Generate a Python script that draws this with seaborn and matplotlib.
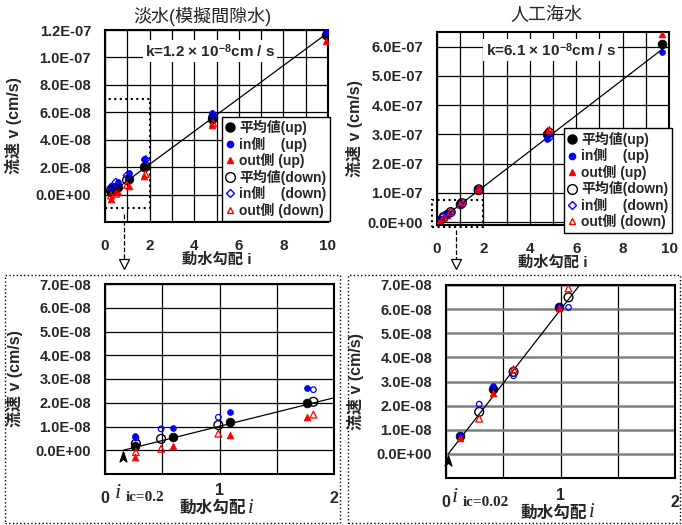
import numpy as np
import pandas as pd
import matplotlib
matplotlib.use('Agg')
import matplotlib.pyplot as plt
import seaborn as sns
from matplotlib.lines import Line2D
from matplotlib.patches import Rectangle
from matplotlib.path import Path

# ---------------- data ----------------
# 淡水 (模擬間隙水)
fw_up_x = [0.26, 0.59, 1.09, 1.76, 4.80, 9.90]
fw_up_mean = [0.17e-8, 0.55e-8, 1.17e-8, 2.00e-8, 5.50e-8, 11.65e-8]
fw_up_in = [0.59e-8, 0.92e-8, 1.60e-8, 2.63e-8, 5.95e-8, 11.85e-8]
fw_up_out = [-0.30e-8, 0.20e-8, 0.66e-8, 1.39e-8, 5.05e-8, 11.20e-8]
fw_dn_x = [0.27, 0.49, 0.99, 1.82, 4.85]
fw_dn_mean = [0.28e-8, 0.48e-8, 1.06e-8, 2.04e-8, 5.60e-8]
fw_dn_in = [0.52e-8, 0.90e-8, 1.39e-8, 2.55e-8, 5.80e-8]
fw_dn_out = [-0.07e-8, 0.06e-8, 0.70e-8, 1.50e-8, 5.20e-8]
fw_k = 1.2e-8
fw_i0 = 0.16          # where the drawn fit line meets v = 0
fw_ic_label = 'ic=0.2'

# 人工海水
sw_up_x = [0.12, 0.41, 0.99, 1.75, 4.75, 9.70]
sw_up_mean = [0.74e-8, 2.68e-8, 6.07e-8, 11.0e-8, 30.0e-8, 61.0e-8]
sw_up_in = [0.80e-8, 2.82e-8, 6.10e-8, 11.2e-8, 28.5e-8, 58.0e-8]
sw_up_out = [0.66e-8, 2.51e-8, 6.03e-8, 10.9e-8, 31.4e-8, 64.2e-8]
sw_dn_x = [0.29, 0.59, 1.07, 1.80, 4.85]
sw_dn_mean = [1.74e-8, 3.40e-8, 6.49e-8, 11.2e-8, 30.5e-8]
sw_dn_in = [2.06e-8, 3.24e-8, 6.07e-8, 11.0e-8, 28.9e-8]
sw_dn_out = [1.46e-8, 3.51e-8, 6.86e-8, 11.4e-8, 31.5e-8]
sw_k = 6.1e-8
sw_i0 = 0.02
sw_ic_label = 'ic=0.02'

legend_labels = ['平均値(up)', 'in側    (up)', 'out側 (up)',
                 '平均値(down)', 'in側    (down)', 'out側 (down)']

# ---------------- style ----------------
sns.set_style('white')
plt.rcParams['font.family'] = ['Liberation Sans', 'Noto Sans CJK JP']
plt.rcParams['font.weight'] = 'bold'
plt.rcParams['mathtext.fontset'] = 'custom'
plt.rcParams['mathtext.bf'] = 'Liberation Sans:bold'
plt.rcParams['mathtext.rm'] = 'Liberation Sans:bold'
plt.rcParams['mathtext.it'] = 'Liberation Serif:italic'

fig = plt.figure(figsize=(6.82, 5.25), dpi=100)
W, H = 682, 525


def px_axes(l, t, r, b):
    return fig.add_axes([l / W, 1 - b / H, (r - l) / W, (b - t) / H])


def draw_points(ax, up_x, up_m, up_i, up_o, dn_x, dn_m, dn_i, dn_o, in_dn_marker):
    sns.scatterplot(x=up_x, y=up_m, ax=ax, marker='o', s=40,
                    color='black', edgecolor='black', linewidth=0.5, zorder=4)
    sns.scatterplot(x=up_x, y=up_i, ax=ax, marker='o', s=18,
                    color='blue', edgecolor='blue', linewidth=0.5, zorder=4)
    sns.scatterplot(x=up_x, y=up_o, ax=ax, marker='^', s=24,
                    color='red', edgecolor='red', linewidth=0.5, zorder=4)
    sns.scatterplot(x=dn_x, y=dn_m, ax=ax, marker='o', s=40,
                    facecolor='none', edgecolor='black', linewidth=1.0, zorder=5)
    sns.scatterplot(x=dn_x, y=dn_i, ax=ax, marker=in_dn_marker, s=16,
                    facecolor='none', edgecolor='blue', linewidth=0.9, zorder=5)
    sns.scatterplot(x=dn_x, y=dn_o, ax=ax, marker='^', s=24,
                    facecolor='none', edgecolor='red', linewidth=0.9, zorder=5)


def fit_line(ax, k, i0, x_end):
    line = pd.DataFrame({'i': [i0, x_end]})
    line['v'] = k * (line['i'] - i0)
    sns.lineplot(data=line, x='i', y='v', ax=ax, color='black', lw=0.9, zorder=3)


def frame(ax, xticks, xlabels, yticks, ylabels, xlim, ylim):
    ax.set_xlim(*xlim)
    ax.set_ylim(*ylim)
    ax.set_xticks(xticks)
    ax.set_xticklabels(xlabels)
    ax.set_yticks(yticks)
    ax.set_yticklabels(ylabels)
    ax.tick_params(length=0, labelsize=10.5, pad=10)
    ax.tick_params(axis='x', labelsize=11, pad=12)
    ax.grid(True, color='black', lw=0.9)
    ax.set_axisbelow(True)
    for sp in ax.spines.values():
        sp.set_linewidth(1.5)
        sp.set_color('black')
    ax.set_xlabel('')
    ax.set_ylabel('流速 v (cm/s)', fontsize=11.5, fontweight='bold')


def fmt(vals, skip_first):
    labs = ['%.1E' % v for v in vals]
    if skip_first:
        labs[0] = ''
    return labs


def legend(ax, anchor, in_dn_marker):
    handles = [
        Line2D([], [], ls='', marker='o', ms=6.5, color='black'),
        Line2D([], [], ls='', marker='o', ms=4.5, color='blue'),
        Line2D([], [], ls='', marker='^', ms=5, color='red'),
        Line2D([], [], ls='', marker='o', ms=7, mfc='none', mec='black', mew=1),
        Line2D([], [], ls='', marker=in_dn_marker, ms=4, mfc='none', mec='blue', mew=1),
        Line2D([], [], ls='', marker='^', ms=5, mfc='none', mec='red', mew=1),
    ]
    leg = ax.legend(handles, legend_labels, loc='lower left', bbox_to_anchor=anchor,
                    borderaxespad=0, fancybox=False, framealpha=1, edgecolor='black',
                    handlelength=0.7, handletextpad=0.3, labelspacing=0.1,
                    borderpad=0.25, prop={'size': 10, 'weight': 'bold'})
    leg.get_frame().set_linewidth(1.0)
    leg.set_zorder(10)


K_TEXT = 'k={}' + ' × 10$^{{\\mathbf{{-8}}}}$cm / s'

# ================= top-left: 淡水 =================
ax1 = px_axes(105, 30, 328, 222)
fit_line(ax1, fw_k, fw_i0, 9.9)
draw_points(ax1, fw_up_x, fw_up_mean, fw_up_in, fw_up_out,
            fw_dn_x, fw_dn_mean, fw_dn_in, fw_dn_out, 'D')
yt = np.arange(-2, 13, 2) * 1e-8
frame(ax1, range(11), [str(v) if v % 2 == 0 else '' for v in range(11)],
      yt, fmt(yt, True), (0, 10), (-2e-8, 1.2e-7))
ax1.set_xlabel('動水勾配 i', fontsize=11, fontweight='bold', labelpad=0)
ax1.yaxis.set_label_coords(-0.37, 0.5)
ax1.text(0.47, 0.89, K_TEXT.format('1.2'), transform=ax1.transAxes,
         ha='center', va='center', fontsize=11, fontweight='bold',
         bbox=dict(facecolor='white', edgecolor='none', pad=1.5), zorder=6)
ax1.add_patch(Rectangle((0, -1e-8), 2, 8e-8, fill=False, ls=':', lw=1.5,
                        color='black', clip_on=False, zorder=6))
legend(ax1, (0.525, 0.005), 'D')
fig.text(202 / W, 1 - 16 / H, '淡水(模擬間隙水)', ha='center', va='center',
         fontsize=13, fontweight='normal')

# ================= top-right: 人工海水 =================
ax2 = px_axes(437, 32, 669, 225)
fit_line(ax2, sw_k, sw_i0, 9.75)
draw_points(ax2, sw_up_x, sw_up_mean, sw_up_in, sw_up_out,
            sw_dn_x, sw_dn_mean, sw_dn_in, sw_dn_out, 'D')
yt = np.arange(0, 7) * 1e-7
frame(ax2, range(11), [str(v) if v % 2 == 0 else '' for v in range(11)],
      yt, fmt(yt, False), (0, 10), (-1e-8, 6.5e-7))
ax2.set_xlabel('動水勾配 i', fontsize=11, fontweight='bold', labelpad=0)
ax2.yaxis.set_label_coords(-0.32, 0.5)
ax2.text(0.49, 0.906, K_TEXT.format('6.1'), transform=ax2.transAxes,
         ha='center', va='center', fontsize=11, fontweight='bold',
         bbox=dict(facecolor='white', edgecolor='none', pad=1.5), zorder=6)
ax2.add_patch(Rectangle((-0.2, -1.7e-8), 2.2, 9.4e-8, fill=False, ls=':', lw=1.5,
                        color='black', clip_on=False, zorder=6))
legend(ax2, (0.547, -0.04), 'D')
fig.text(546 / W, 1 - 16 / H, '人工海水', ha='center', va='center',
         fontsize=13, fontweight='normal')

# ================= bottom panels (zoom) =================
arrow_path = Path([(0, 1), (0.6, -0.8), (0, -0.3), (-0.6, -0.8), (0, 1)],
                  [Path.MOVETO, Path.LINETO, Path.LINETO, Path.LINETO, Path.CLOSEPOLY])

yt = np.arange(-1, 8) * 1e-8
ax3 = px_axes(105, 284, 334, 474)
fit_line(ax3, fw_k, fw_i0, 2.0)
draw_points(ax3, fw_up_x, fw_up_mean, fw_up_in, fw_up_out,
            fw_dn_x, fw_dn_mean, fw_dn_in, fw_dn_out, 'o')

ax4 = px_axes(446, 285, 675, 478)
fit_line(ax4, sw_k, sw_i0, 1.2)
draw_points(ax4, sw_up_x, sw_up_mean, sw_up_in, sw_up_out,
            sw_dn_x, sw_dn_mean, sw_dn_in, sw_dn_out, 'o')

for ax, i0, ic_x, ic_label, one_y in [(ax3, fw_i0, 0.11, fw_ic_label, -0.085),
                                      (ax4, sw_i0, 0.08, sw_ic_label, -0.09)]:
    frame(ax, [0, 0.5, 1, 1.5, 2], ['0', '', '', '', '2'],
          yt, fmt(yt, True), (0, 2), (-1e-8, 7e-8))
    ax.tick_params(axis='x', pad=12, labelsize=11.5)
    ax.yaxis.set_label_coords(-0.36, 0.5)
    ax.text(1, one_y, '1', transform=ax.get_xaxis_transform(), ha='center',
            va='center', fontsize=11.5, fontweight='bold')
    ax.plot([i0], [-0.3e-8], ls='', marker=arrow_path, ms=8, color='black',
            clip_on=False, zorder=6)
    ax.text(ic_x, -0.1, 'i', transform=ax.get_xaxis_transform(), ha='center',
            va='center', fontsize=16, family='Liberation Serif', style='italic',
            fontweight='normal')
    ax.text(ic_x + 0.07, -0.125, ic_label, transform=ax.get_xaxis_transform(),
            ha='left', va='center', fontsize=11, family='Liberation Serif',
            fontweight='bold')
    ax.text(0.47, -0.18, '動水勾配', transform=ax.transAxes, ha='center',
            va='center', fontsize=12, fontweight='bold')
    ax.text(0.635, -0.18, 'i', transform=ax.transAxes, ha='center', va='center',
            fontsize=15, family='Liberation Serif', style='italic', fontweight='normal')

ax4.yaxis.grid(True, color='#808080', lw=1.8)

# dotted frames round the bottom panels
for l, r in [(5, 340), (348, 680)]:
    fig.add_artist(Rectangle((l / W, 1 - 523 / H), (r - l) / W, (523 - 275) / H,
                             transform=fig.transFigure, fill=False, ls=':', lw=1,
                             color='black'))

# dashed arrows from the zoom boxes down
for x, y0, y1 in [(124, 214, 266), (456, 230, 266)]:
    fig.add_artist(Line2D([x / W, x / W], [1 - y0 / H, 1 - y1 / H], ls='--',
                          lw=0.9, color='black', transform=fig.transFigure))
    fig.add_artist(Line2D([x / W], [1 - (y1 - 2) / H], ls='', marker='v', ms=7,
                          mfc='white', mec='black', mew=0.9,
                          transform=fig.transFigure))

fig.savefig('out.png', dpi=100)
